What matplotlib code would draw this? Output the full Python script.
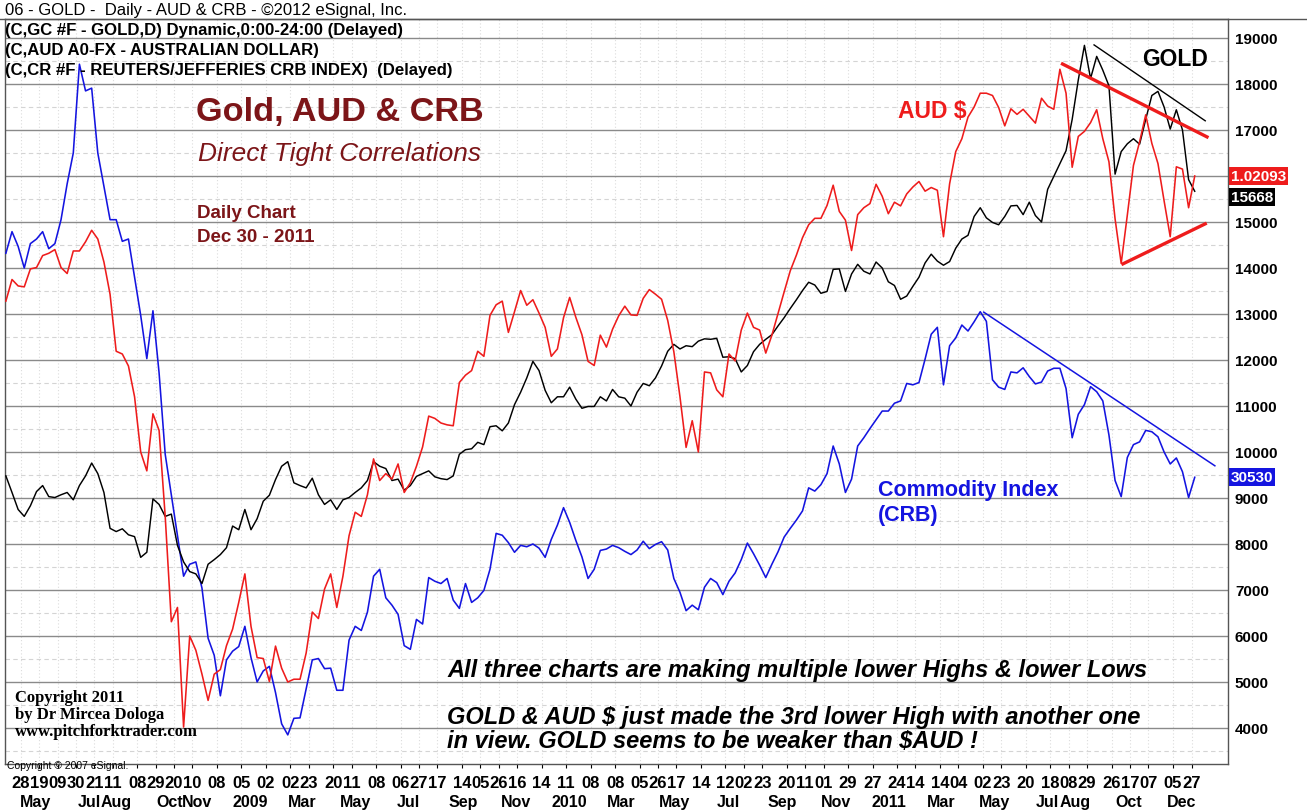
import matplotlib
matplotlib.use("Agg")
import matplotlib.pyplot as plt
import matplotlib.dates as mdates
import pandas as pd

# ---------------- data (chart-scale units, weekly samples) ----------------
start_date = "2008-04-11"

gold = [9480, 9120, 8750, 8600, 8830, 9140, 9270, 9030, 9010, 9070,
        9120, 8960, 9270, 9480, 9760, 9530, 9120, 8340, 8270, 8330,
        8200, 8160, 7710, 7820, 8980, 8860, 8600, 8650, 7970, 7610,
        7400, 7350, 7140, 7560, 7660, 7770, 7920, 8390, 8310, 8750,
        8310, 8550, 8930, 9060, 9400, 9690, 9790, 9330, 9270, 9220,
        9430, 9070, 8860, 8960, 8750, 8960, 9010, 9120, 9220, 9380,
        9790, 9690, 9640, 9380, 9410, 9170, 9270, 9470, 9530, 9590,
        9460, 9420, 9400, 9480, 9950, 10050, 10070, 10210, 10160, 10550,
        10570, 10460, 10630, 11030, 11300, 11610, 11970, 11770, 11340, 11070,
        11200, 11200, 11410, 11150, 10950, 10990, 10990, 11200, 11110, 11360,
        11200, 11170, 11000, 11300, 11490, 11440, 11610, 11870, 12190, 12340,
        12240, 12310, 12290, 12410, 12460, 12450, 12470, 12060, 12070, 12030,
        11740, 11880, 12180, 12340, 12450, 12550, 12740, 12920, 13120, 13310,
        13510, 13690, 13630, 13450, 13490, 13970, 13980, 13490, 13870, 14080,
        13930, 13870, 14130, 14000, 13700, 13620, 13320, 13390, 13600, 13800,
        14110, 14300, 14150, 14060, 14140, 14430, 14630, 14710, 15120, 15310,
        15090, 14990, 14940, 15120, 15350, 15360, 15160, 15430, 15140, 15000,
        15710, 15990, 16270, 16550, 17230, 18090, 18840, 18120, 18600, 18300,
        17960, 16040, 16530, 16700, 16810, 16690, 17230, 17750, 17840, 17500,
        17020, 17440, 17000, 15920, 15668]

aud = [13280, 13750, 13610, 13590, 13980, 14010, 14270, 14320, 14400, 14010,
       13880, 14370, 14370, 14570, 14820, 14630, 14130, 13430, 12190, 12130,
       11870, 11200, 10000, 9590, 10830, 10470, 8600, 6310, 6620, 4020,
       6000, 5690, 5170, 4600, 5170, 5270, 5790, 6150, 6730, 7350,
       6210, 5530, 5510, 5010, 5780, 5300, 5000, 5060, 5060, 5630,
       6520, 6380, 7020, 7350, 6620, 7300, 8180, 8690, 8600, 9070,
       9850, 9380, 9530, 9410, 9740, 9120, 9330, 9690, 10110, 10780,
       10730, 10630, 10590, 10570, 11510, 11670, 11770, 12190, 12080, 12970,
       13200, 13280, 12600, 13050, 13510, 13190, 13310, 13020, 12710, 12080,
       12240, 12920, 13360, 12930, 12550, 11970, 11880, 12540, 12280, 12670,
       12960, 13170, 12980, 12970, 13340, 13530, 13430, 13320, 12860, 12180,
       11200, 10100, 10680, 10000, 11740, 11720, 11350, 11200, 12130, 11980,
       12650, 13020, 12710, 12650, 12150, 12540, 13010, 13480, 13940, 14280,
       14660, 14940, 15080, 15080, 15360, 15800, 15230, 15040, 14380, 15160,
       15310, 15400, 15820, 15560, 15180, 15430, 15350, 15610, 15760, 15880,
       15670, 15750, 15690, 14680, 15830, 16530, 16810, 17280, 17500, 17800,
       17800, 17750, 17490, 17090, 17460, 17340, 17450, 17300, 17150, 17690,
       17520, 17450, 18320, 17800, 16190, 16860, 16970, 17160, 17440, 16810,
       16310, 15070, 14100, 15150, 16230, 16740, 17330, 16710, 16270, 15460,
       14680, 16200, 16150, 15310, 16000]

crb = [14320, 14790, 14470, 14000, 14530, 14630, 14790, 14420, 14530, 15050,
       15830, 16500, 18430, 17850, 17910, 16500, 15770, 15050, 15050, 14580,
       14630, 13800, 12970, 12030, 13070, 11720, 9950, 9070, 8180, 7300,
       7560, 7610, 7040, 5950, 5580, 4700, 5480, 5670, 5770, 6210,
       5530, 5000, 5240, 5340, 4770, 4090, 3850, 4210, 4220, 4850,
       5480, 5510, 5290, 5300, 4820, 4820, 5910, 6210, 6120, 6520,
       7300, 7450, 6830, 6670, 6470, 5790, 5710, 6360, 6260, 7270,
       7190, 7140, 7250, 6780, 6600, 7140, 6730, 6830, 6990, 7450,
       8230, 8190, 8030, 7820, 7970, 7940, 8000, 7910, 7710, 8100,
       8410, 8790, 8470, 8080, 7720, 7250, 7450, 7860, 7890, 7970,
       7920, 7840, 7770, 7870, 8060, 7900, 7990, 8050, 7870, 7250,
       6950, 6550, 6670, 6570, 7060, 7250, 7160, 6900, 7190, 7370,
       7660, 8020, 7790, 7540, 7270, 7560, 7830, 8150, 8340, 8520,
       8720, 9220, 9150, 9290, 9530, 10130, 9740, 9120, 9410, 10130,
       10310, 10510, 10700, 10890, 10890, 11060, 11110, 11490, 11460, 11510,
       12020, 12560, 12710, 11460, 12310, 12480, 12760, 12630, 12830, 13050,
       12840, 11570, 11410, 11360, 11740, 11720, 11830, 11640, 11480, 11520,
       11760, 11820, 11820, 11380, 10310, 10820, 11030, 11420, 11310, 11110,
       10370, 9380, 9030, 9880, 10160, 10220, 10470, 10440, 10330, 10000,
       9740, 9870, 9570, 9010, 9450]

tick_dates = ["2008-04-28", "2008-05-19", "2008-06-09", "2008-06-30", "2008-07-21", "2008-08-11",
              "2008-09-08", "2008-09-29", "2008-10-20", "2008-11-10", "2008-12-08", "2009-01-05",
              "2009-02-02", "2009-03-02", "2009-03-23", "2009-04-20", "2009-05-11", "2009-06-08",
              "2009-07-06", "2009-07-27", "2009-08-17", "2009-09-14", "2009-10-05", "2009-10-26",
              "2009-11-16", "2009-12-14", "2010-01-11", "2010-02-08", "2010-03-08", "2010-04-05",
              "2010-04-26", "2010-05-17", "2010-06-14", "2010-07-12", "2010-08-02", "2010-08-23",
              "2010-09-20", "2010-10-11", "2010-11-01", "2010-11-29", "2010-12-27", "2011-01-24",
              "2011-02-14", "2011-03-14", "2011-04-04", "2011-05-02", "2011-05-23", "2011-06-20",
              "2011-07-18", "2011-08-08", "2011-08-29", "2011-09-26", "2011-10-17", "2011-11-07",
              "2011-12-05", "2011-12-27"]
tick_labels = [d[-2:] for d in tick_dates]

month_dates = ["2008-05-15", "2008-07-15", "2008-08-15", "2008-10-15", "2008-11-15", "2009-01-15",
               "2009-03-15", "2009-05-15", "2009-07-15", "2009-09-15", "2009-11-15", "2010-01-15",
               "2010-03-15", "2010-05-15", "2010-07-15", "2010-09-15", "2010-11-15", "2011-01-15",
               "2011-03-15", "2011-05-15", "2011-07-15", "2011-08-15", "2011-10-15", "2011-12-15"]
month_labels = ["May", "Jul", "Aug", "Oct", "Nov", "2009", "Mar", "May", "Jul", "Sep", "Nov", "2010",
                "Mar", "May", "Jul", "Sep", "Nov", "2011", "Mar", "May", "Jul", "Aug", "Oct", "Dec"]

gold_trend_dates = ["2011-09-06", "2012-01-11"]
gold_trend_vals = [18850, 17200]
aud_top_dates = ["2011-08-01", "2012-01-13"]
aud_top_vals = [18435, 16850]
aud_low_dates = ["2011-10-09", "2012-01-11"]
aud_low_vals = [14090, 14960]
crb_trend_dates = ["2011-05-03", "2012-01-22"]
crb_trend_vals = [13040, 9700]

aud_last_text = "1.02093"
gold_last_text = "15668"
crb_last_text = "30530"

# ---------------- figure ----------------
W, H = 1307, 812
fig = plt.figure(figsize=(W / 100, H / 100), dpi=100)
fig.patch.set_facecolor("white")
plt.rcParams["font.family"] = ["Liberation Sans", "DejaVu Sans"]

L, R, T, B = 5, 1228, 20, 765
ax = fig.add_axes([L / W, 1 - B / H, (R - L) / W, (B - T) / H])

def fx(px):
    return px / W

def fy(py):
    return 1 - py / H

dates = pd.date_range(start_date, periods=len(gold), freq="7D")
RED = "#ee1c1c"
BLUE = "#1414e0"
MAROON = "#7c1518"

ax.plot(dates, crb, color=BLUE, lw=1.15, zorder=3)
ax.plot(dates, gold, color="black", lw=1.05, zorder=4)
ax.plot(dates, aud, color=RED, lw=1.15, zorder=5)

ax.plot(pd.to_datetime(gold_trend_dates), gold_trend_vals, color="black", lw=1.0, zorder=6)
ax.plot(pd.to_datetime(aud_top_dates), aud_top_vals, color=RED, lw=2.4, zorder=6)
ax.plot(pd.to_datetime(aud_low_dates), aud_low_vals, color=RED, lw=2.4, zorder=6)
ax.plot(pd.to_datetime(crb_trend_dates), crb_trend_vals, color=BLUE, lw=1.1, zorder=6)

x0 = pd.Timestamp(start_date) - pd.Timedelta(days=1)
ax.set_xlim(x0, x0 + pd.Timedelta(days=1397))
ax.set_ylim(3217, 19413)

# y axis on right
ax.yaxis.tick_right()
major = list(range(4000, 20000, 1000))
ax.set_yticks(major)
ax.set_yticklabels(["" if v == 16000 else str(v) for v in major], fontsize=11, fontweight="bold")
ax.set_yticks(list(range(3500, 19500, 1000)), minor=True)
ax.tick_params(axis="y", which="both", length=0, pad=5)
ax.grid(axis="y", which="major", color="#8a8a8a", lw=1.0, zorder=0)
ax.grid(axis="y", which="minor", color="#d4d4d4", lw=0.8, ls=(0, (4, 3)), zorder=0)

# x axis
tick_nums = mdates.date2num(pd.to_datetime(tick_dates))
ax.set_xticks(tick_nums)
ax.set_xticklabels(tick_labels, fontsize=12, fontweight="bold")
ax.tick_params(axis="x", length=3, width=0.8, pad=5, direction="out")
ax.grid(axis="x", color="#dcdcdc", lw=0.8, ls=(0, (1, 2)), zorder=0)
for d, lab in zip(month_dates, month_labels):
    ax.text(mdates.date2num(pd.Timestamp(d)), -0.051, lab, transform=ax.get_xaxis_transform(),
            ha="center", va="center", fontsize=11.5, fontweight="bold", clip_on=False)

for s in ax.spines.values():
    s.set_color("#555555")
    s.set_linewidth(1.0)

fig.add_artist(plt.Line2D([0, 1], [fy(20), fy(20)], color="#555555", lw=1.0))

# last value boxes
ytr = ax.get_yaxis_transform()
ax.text(1.0025, aud[-1], aud_last_text, transform=ytr, ha="left", va="center", fontsize=11,
        fontweight="bold", color="white", zorder=10, clip_on=False,
        bbox=dict(boxstyle="square,pad=0.12", fc=RED, ec="none"))
ax.text(1.0025, gold[-1] - 120, gold_last_text, transform=ytr, ha="left", va="center", fontsize=11,
        fontweight="bold", color="white", zorder=9, clip_on=False,
        bbox=dict(boxstyle="square,pad=0.12", fc="black", ec="none"))
ax.text(1.0025, crb[-1], crb_last_text, transform=ytr, ha="left", va="center", fontsize=11,
        fontweight="bold", color="white", zorder=9, clip_on=False,
        bbox=dict(boxstyle="square,pad=0.12", fc=BLUE, ec="none"))

# header texts
fig.text(fx(5), fy(10), "06 - GOLD -  Daily - AUD & CRB - \u00a92012 eSignal, Inc.", fontsize=12,
         ha="left", va="center")
fig.text(fx(5), fy(31), "(C,GC #F - GOLD,D) Dynamic,0:00-24:00 (Delayed)", fontsize=12.1,
         fontweight="bold", ha="left", va="center")
fig.text(fx(5), fy(50), "(C,AUD A0-FX - AUSTRALIAN DOLLAR)", fontsize=12.1,
         fontweight="bold", ha="left", va="center")
fig.text(fx(5), fy(70), "(C,CR #F - REUTERS/JEFFERIES CRB INDEX)  (Delayed)", fontsize=12.1,
         fontweight="bold", ha="left", va="center")

# annotations
fig.text(fx(196), fy(112), "Gold, AUD & CRB", fontsize=24.7, fontweight="bold", color=MAROON,
         ha="left", va="center")
fig.text(fx(198), fy(154), "Direct Tight Correlations", fontsize=18.9, style="italic", color=MAROON,
         ha="left", va="center")
fig.text(fx(197), fy(213), "Daily Chart", fontsize=13.5, fontweight="bold", color=MAROON,
         ha="left", va="center")
fig.text(fx(197), fy(237), "Dec 30 - 2011", fontsize=13.5, fontweight="bold", color=MAROON,
         ha="left", va="center")
fig.text(fx(898), fy(111), "AUD $", fontsize=16.5, fontweight="bold", color=RED, ha="left", va="center")
fig.text(fx(1142), fy(60), "GOLD", fontsize=16.5, fontweight="bold", color="black", ha="left", va="center")
fig.text(fx(878), fy(491), "Commodity Index", fontsize=15.5, fontweight="bold", color=BLUE,
         ha="left", va="center")
fig.text(fx(878), fy(516), "(CRB)", fontsize=15.5, fontweight="bold", color=BLUE, ha="left", va="center")
fig.text(fx(447), fy(671), "All three charts are making multiple lower Highs & lower Lows", fontsize=17,
         fontweight="bold", style="italic", ha="left", va="center")
fig.text(fx(447), fy(718), "GOLD & AUD $ just made the 3rd lower High with another one", fontsize=17,
         fontweight="bold", style="italic", ha="left", va="center")
fig.text(fx(447), fy(742), "in view. GOLD seems to be weaker than $AUD !", fontsize=17,
         fontweight="bold", style="italic", ha="left", va="center")

for i, line in enumerate(["Copyright 2011", "by Dr Mircea Dologa", "www.pitchforktrader.com"]):
    fig.text(fx(15), fy(698 + 17 * i), line, fontsize=12, fontweight="bold",
             family=["Liberation Serif", "DejaVu Serif"], ha="left", va="center")
fig.text(fx(7), fy(766), "Copyright \u00a9 2007 eSignal.", fontsize=7.5, ha="left", va="center")

fig.savefig("out.png", dpi=100)
